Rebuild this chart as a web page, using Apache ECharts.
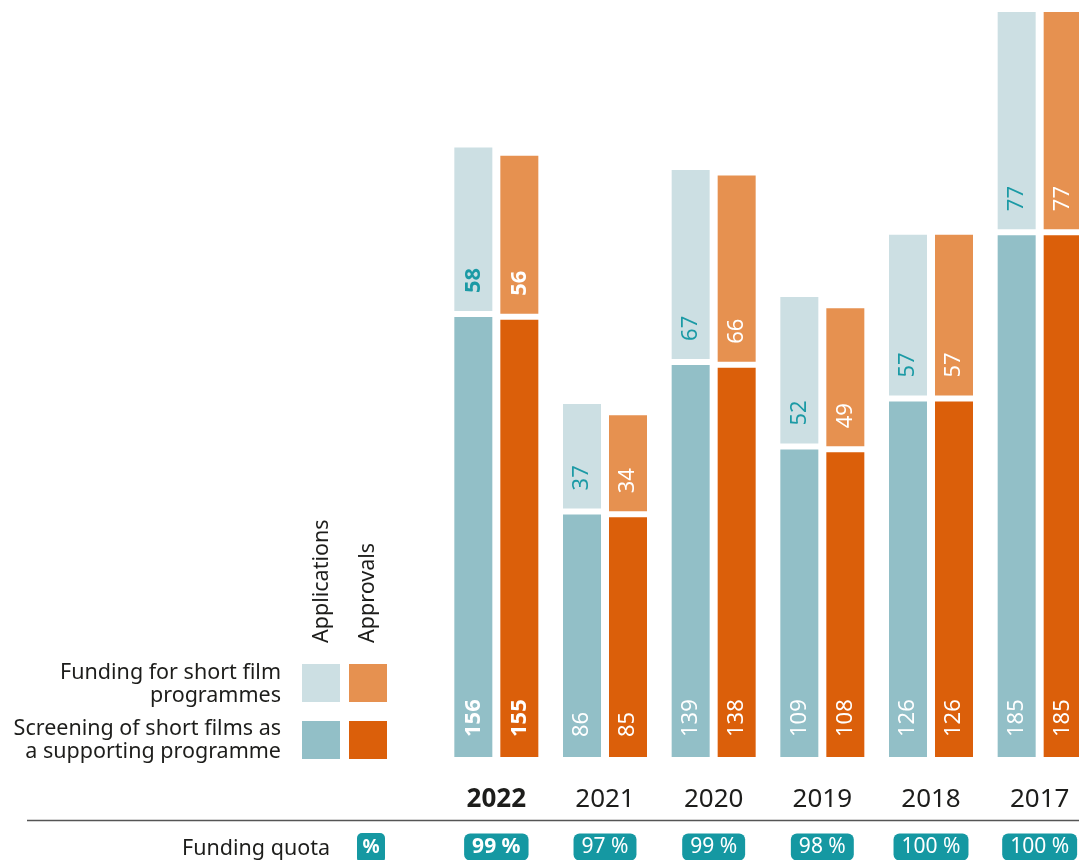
<!DOCTYPE html>
<html>
<head>
<meta charset="utf-8">
<script src="https://cdn.jsdelivr.net/npm/echarts@6/dist/echarts.min.js"></script>
<style>
  html, body { margin: 0; padding: 0; background: #fff; }
  #chart { width: 1079px; height: 860px; }
</style>
</head>
<body>
<div id="chart"></div>
<script>
// values, newest year first
const years = ["2022", "2021", "2020", "2019", "2018", "2017"];
const applicationsScreening = [156, 86, 139, 109, 126, 185];
const applicationsFunding = [58, 37, 67, 52, 57, 77];
const approvalsScreening = [155, 85, 138, 108, 126, 185];
const approvalsFunding = [56, 34, 66, 49, 57, 77];
const fundingQuota = [99, 97, 99, 98, 100, 100];

const FONT = '"Noto Sans", "DejaVu Sans", sans-serif';
const TEXT = "#1d1d1b";
const TEAL = "#1b9aa5";
const PILL = "#1598a2";

const BAR_W = 38;
const BAR_SHIFT = 23; // half distance between the two bar centres
const GAP = 6; // white gap between the stacked parts
const LABEL_PAD = 20;

function makeRenderer(offset, bottomColor, topColor, topLabelColor) {
  return function (params, api) {
    const idx = api.value(0);
    const lower = api.value(1);
    const upper = api.value(2);
    const base = api.coord([idx, 0]);
    const mid = api.coord([idx, lower]);
    const top = api.coord([idx, lower + upper]);
    const cx = base[0] + offset;
    const weight = idx === 0 ? "bold" : "normal";
    const labelFont = weight + " 22px " + FONT;
    return {
      type: "group",
      children: [
        {
          type: "rect",
          shape: { x: cx - BAR_W / 2, y: mid[1], width: BAR_W, height: base[1] - mid[1] },
          style: { fill: bottomColor },
        },
        {
          type: "rect",
          shape: { x: cx - BAR_W / 2, y: top[1] - GAP, width: BAR_W, height: mid[1] - top[1] },
          style: { fill: topColor },
        },
        {
          type: "text",
          x: cx,
          y: base[1] - LABEL_PAD,
          rotation: Math.PI / 2,
          style: { text: String(lower), fill: "#fff", font: labelFont, align: "left", verticalAlign: "middle" },
        },
        {
          type: "text",
          x: cx,
          y: mid[1] - GAP - LABEL_PAD + 2,
          rotation: Math.PI / 2,
          style: { text: String(upper), fill: topLabelColor, font: labelFont, align: "left", verticalAlign: "middle" },
        },
      ],
    };
  };
}

const applicationsData = years.map((y, i) => [i, applicationsScreening[i], applicationsFunding[i]]);
const approvalsData = years.map((y, i) => [i, approvalsScreening[i], approvalsFunding[i]]);
const yMax = Math.max(...applicationsScreening.map((v, i) => v + applicationsFunding[i]));

const chart = echarts.init(document.getElementById("chart"));

chart.setOption({
  animation: false,
  backgroundColor: "#fff",
  grid: { left: 442, right: -15, top: 18, bottom: 103, outerBoundsMode: "none" },
  xAxis: [
    {
      type: "category",
      data: years,
      position: "bottom",
      axisLine: { show: false },
      axisTick: { show: false },
      axisLabel: {
        margin: 29,
        formatter: (value, index) => (index === 0 ? "{b|" + value + "}" : "{n|" + value + "}"),
        rich: {
          b: { fontFamily: FONT, fontSize: 26, fontWeight: "bold", color: TEXT, lineHeight: 28 },
          n: { fontFamily: FONT, fontSize: 26, color: TEXT, lineHeight: 28 },
        },
      },
    },
    {
      type: "category",
      data: years,
      position: "bottom",
      offset: 0,
      axisLine: { show: false },
      axisTick: { show: false },
      axisLabel: {
        margin: 78,
        formatter: (value, index) =>
          (index === 0 ? "{pb|" : "{p|") + fundingQuota[index] + " %}",
        rich: {
          p: {
            fontFamily: FONT, fontSize: 21, color: "#fff", lineHeight: 24,
            backgroundColor: PILL, borderRadius: 6, padding: [3, 8, 3, 8],
          },
          pb: {
            fontFamily: FONT, fontSize: 21, fontWeight: "bold", color: "#fff", lineHeight: 24,
            backgroundColor: PILL, borderRadius: 6, padding: [3, 8, 3, 8],
          },
        },
      },
    },
  ],
  yAxis: { type: "value", min: 0, max: yMax, show: false },
  series: [
    {
      name: "Applications",
      type: "custom",
      xAxisIndex: 0,
      encode: { x: 0, y: [1, 2] },
      data: applicationsData,
      renderItem: makeRenderer(-BAR_SHIFT, "#92bfc7", "#ccdfe3", TEAL),
    },
    {
      name: "Approvals",
      type: "custom",
      xAxisIndex: 0,
      encode: { x: 0, y: [1, 2] },
      data: approvalsData,
      renderItem: makeRenderer(BAR_SHIFT, "#db5f0a", "#e69150", "#fff"),
    },
  ],
  graphic: [
    {
      type: "line",
      shape: { x1: 27, y1: 820.5, x2: 1079, y2: 820.5 },
      style: { stroke: "#555", lineWidth: 1.5 },
    },
    {
      type: "text",
      x: 330,
      y: 849,
      style: { text: "Funding quota", fill: TEXT, font: "21.5px " + FONT, align: "right", verticalAlign: "middle" },
    },
    {
      type: "rect",
      shape: { x: 357, y: 833, width: 28, height: 30, r: 5 },
      style: { fill: PILL },
    },
    {
      type: "text",
      x: 371,
      y: 848,
      style: { text: "%", fill: "#fff", font: "bold 19px " + FONT, align: "center", verticalAlign: "middle" },
    },
    // legend matrix
    {
      type: "text",
      x: 281,
      y: 684,
      style: {
        text: "Funding for short film\nprogrammes", fill: TEXT, font: "21.5px " + FONT,
        lineHeight: 23, align: "right", verticalAlign: "middle",
      },
    },
    {
      type: "text",
      x: 281,
      y: 740,
      style: {
        text: "Screening of short films as\na supporting programme", fill: TEXT, font: "21.5px " + FONT,
        lineHeight: 23, align: "right", verticalAlign: "middle",
      },
    },
    { type: "rect", shape: { x: 302, y: 664, width: 38, height: 38 }, style: { fill: "#ccdfe3" } },
    { type: "rect", shape: { x: 349, y: 664, width: 38, height: 38 }, style: { fill: "#e69150" } },
    { type: "rect", shape: { x: 302, y: 721, width: 38, height: 38 }, style: { fill: "#92bfc7" } },
    { type: "rect", shape: { x: 349, y: 721, width: 38, height: 38 }, style: { fill: "#db5f0a" } },
    {
      type: "text",
      x: 322,
      y: 643,
      rotation: Math.PI / 2,
      style: { text: "Applications", fill: TEXT, font: "21.5px " + FONT, align: "left", verticalAlign: "middle" },
    },
    {
      type: "text",
      x: 368,
      y: 643,
      rotation: Math.PI / 2,
      style: { text: "Approvals", fill: TEXT, font: "21.5px " + FONT, align: "left", verticalAlign: "middle" },
    },
  ],
});
</script>
</body>
</html>
